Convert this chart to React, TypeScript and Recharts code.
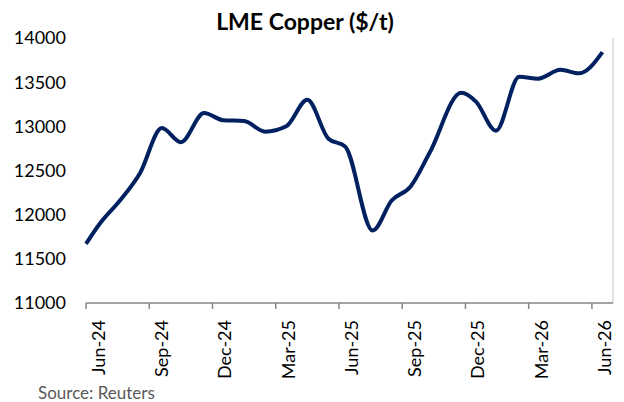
import { LineChart, Line, XAxis, YAxis, ReferenceLine } from "recharts";

// month offsets from Jun-24 (0 = Jun-24) and the price read at each
const monthOffsets = [
  0, 0.66, 1.61, 2.56, 3.6, 4.5, 5.6, 6.5, 7.5, 8.5, 9.5, 10.5, 11.5, 12.3,
  13.6, 14.5, 15.4, 16.3, 17.8, 18.5, 19.45, 20.55, 21.45, 22.5, 23.4, 24.5,
];
const prices = [
  11670, 11900, 12160, 12470, 12980, 12820, 13150, 13070, 13060, 12940, 13000,
  13300, 12860, 12770, 11820, 12160, 12320, 12700, 13380, 13280, 12950, 13560,
  13540, 13640, 13600, 13840,
];
const tickMonths = [0, 3, 6, 9, 12, 15, 18, 21, 24];
const tickLabels = [
  "Jun-24", "Sep-24", "Dec-24", "Mar-25", "Jun-25",
  "Sep-25", "Dec-25", "Mar-26", "Jun-26",
];
const yTicks = [11000, 11500, 12000, 12500, 13000, 13500, 14000];

const data = monthOffsets.map((m, i) => ({ m, price: prices[i] }));

const FONT = "Lato, 'Open Sans', sans-serif";

function MonthTick(props: any) {
  const { x, y, payload } = props;
  const idx = tickMonths.indexOf(payload.value);
  return (
    <text
      transform={`translate(${x + 12},${y + 9}) rotate(-90)`}
      textAnchor="end"
      dominantBaseline="central"
      fontSize={18}
      fontFamily={FONT}
      fill="#000"
    >
      {tickLabels[idx]}
    </text>
  );
}

export default function App() {
  return (
    <div
      style={{
        position: "absolute",
        left: 0,
        top: 0,
        width: 624,
        height: 402,
        background: "#fff",
        fontFamily: FONT,
      }}
    >
      <div
        style={{
          position: "absolute",
          left: 0,
          width: 610,
          top: 7,
          textAlign: "center",
          fontWeight: 700,
          fontSize: 23,
          color: "#000",
        }}
      >
        LME Copper ($/t)
      </div>
      <LineChart
        width={624}
        height={402}
        data={data}
        margin={{ top: 38, right: 11, left: 0, bottom: 0 }}
      >
        <XAxis
          dataKey="m"
          type="number"
          domain={[0, 25]}
          ticks={tickMonths}
          interval={0}
          height={99}
          tick={<MonthTick />}
          tickSize={6}
          axisLine={{ stroke: "#868686", strokeWidth: 1.5 }}
          tickLine={{ stroke: "#868686", strokeWidth: 1.5 }}
        />
        <YAxis
          domain={[11000, 14000]}
          ticks={yTicks}
          interval={0}
          width={86}
          axisLine={false}
          tickLine={false}
          tickSize={0}
          tickMargin={20}
          tick={{ fill: "#000", fontSize: 18, fontFamily: FONT }}
        />
        <ReferenceLine x={25} stroke="#d9d9d9" strokeWidth={1.5} />
        <Line
          type="monotone"
          dataKey="price"
          stroke="#002060"
          strokeWidth={4}
          dot={false}
          isAnimationActive={false}
        />
      </LineChart>
      <div
        style={{
          position: "absolute",
          left: 38,
          top: 382,
          fontSize: 17,
          color: "#595959",
        }}
      >
        Source: Reuters
      </div>
    </div>
  );
}
